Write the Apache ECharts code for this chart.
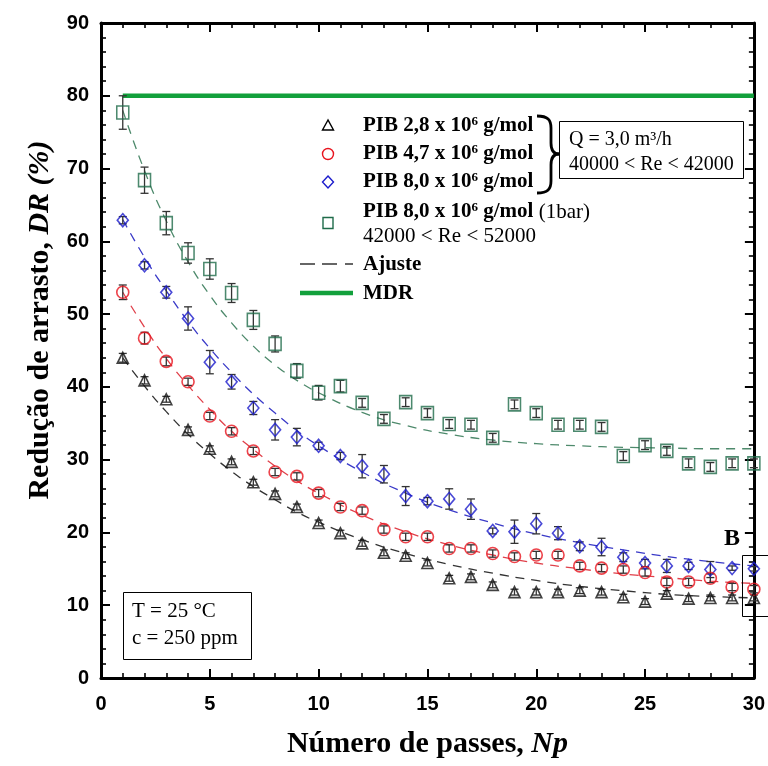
<!DOCTYPE html>
<html>
<head>
<meta charset="utf-8">
<script src="https://cdn.jsdelivr.net/npm/echarts@6/dist/echarts.min.js"></script>
<style>
  html, body { margin: 0; padding: 0; background: #fff; }
  #chart { width: 768px; height: 766px; }
</style>
</head>
<body>
<div id="chart"></div>
<script>
// Number of passes through the pump
const passes = [1,2,3,4,5,6,7,8,9,10,11,12,13,14,15,16,17,18,19,20,21,22,23,24,25,26,27,28,29,30];

// Drag reduction DR (%) per polymer
const dr28  = [44.0,40.9,38.3,34.1,31.5,29.7,26.9,25.3,23.5,21.3,19.9,18.5,17.2,16.8,15.8,13.7,13.9,12.8,11.8,11.8,11.8,12.0,11.8,11.1,10.5,11.6,10.9,11.0,11.0,11.0];
const dr47  = [53.0,46.7,43.5,40.7,36.0,33.9,31.2,28.3,27.7,25.4,23.5,23.0,20.4,19.4,19.4,17.8,17.8,17.1,16.7,16.9,16.9,15.4,15.1,14.9,14.5,13.2,13.2,13.7,12.5,12.2];
const dr80  = [62.9,56.7,53.0,49.4,43.4,40.7,37.1,34.1,33.1,31.9,30.5,29.1,28.0,25.0,24.3,24.6,23.2,20.2,20.1,21.2,19.9,18.1,18.0,16.6,15.8,15.4,15.4,14.9,15.1,15.0];
const dr80b = [77.7,68.4,62.5,58.4,56.2,52.9,49.2,45.9,42.2,39.2,40.1,37.8,35.6,37.9,36.4,34.9,34.8,33.0,37.6,36.4,34.8,34.8,34.5,30.5,32.0,31.2,29.5,29.0,29.5,29.5];

// Half-width of the error bars
const err28  = [0.6,0.5,0.4,0.4,0.4,0.4,0.4,0.4,0.4,0.4,0.4,0.4,0.4,0.4,0.4,0.4,0.4,0.4,0.4,0.4,0.4,0.4,0.4,0.4,0.4,0.4,0.4,0.4,0.4,0.4];
const err47  = [1.0,0.8,0.6,0.5,0.5,0.5,0.5,0.5,0.5,0.5,0.5,0.5,0.5,0.5,0.5,0.5,0.5,0.5,0.5,0.5,0.5,0.5,0.5,0.5,0.5,0.5,0.5,0.6,0.5,0.5];
const err80  = [0.5,0.5,0.8,1.6,1.6,1.0,0.9,1.4,1.2,0.5,0.5,1.6,1.2,1.3,0.5,1.4,1.4,0.4,1.6,1.4,0.9,0.6,1.2,0.6,0.5,0.9,0.5,1.1,0.3,0.3];
const err80b = [2.3,1.8,1.6,1.4,1.4,1.3,1.3,1.1,1.0,1.0,0.8,0.6,0.6,0.6,0.6,0.6,0.6,0.6,0.6,0.6,0.6,0.6,0.6,0.6,0.6,0.6,0.6,0.6,0.6,0.6];

// Fitted decay curves (Ajuste)
const fitPasses = [1,2,3,4,5,6,7,8,9,10,12,14,16,18,20,22,24,26,28,30];
const fit28  = [44.0,40.1,36.6,33.5,30.8,28.4,26.3,24.5,22.8,21.4,19.0,17.1,15.6,14.4,13.4,12.6,12.0,11.5,11.2,11.0];
const fit47  = [53.0,48.2,43.9,40.2,36.9,33.9,31.4,29.1,27.1,25.4,22.4,20.1,18.3,16.9,15.8,15.0,14.3,13.8,13.3,13.0];
const fit80  = [63.0,57.8,53.2,49.0,45.3,42.0,39.0,36.4,34.0,31.9,28.3,25.4,23.1,21.3,19.8,18.6,17.6,16.7,16.0,15.4];
const fit80b = [78.0,69.7,62.8,57.2,52.6,48.8,45.6,43.0,40.9,39.2,36.5,34.7,33.5,32.7,32.2,31.9,31.7,31.6,31.5,31.5];

// Maximum drag reduction asymptote
const mdrPasses = [1, 30];
const mdrValue = 80;

const SERIF = "'Liberation Serif', 'Times New Roman', serif";
const SANS = "'Liberation Sans', Arial, sans-serif";

const C_BLACK = '#111111';
const C_RED = '#e8141e';
const C_BLUE = '#1c1ccc';
const C_GREEN = '#1f6b4a';
const C_MDR = '#12a03c';

function pairs(xs, ys) { return xs.map((x, i) => [x, ys[i]]); }
function triples(xs, ys, es) { return xs.map((x, i) => [x, ys[i], es[i]]); }

function errorBars(name, vals, errs) {
  return {
    type: 'custom',
    name: name,
    silent: true,
    z: 3,
    data: triples(passes, vals, errs),
    renderItem: function (params, api) {
      const x = api.value(0), y = api.value(1), e = api.value(2);
      const top = api.coord([x, y + e]);
      const bot = api.coord([x, y - e]);
      const cap = 4;
      const st = { stroke: '#333', lineWidth: 1.3 };
      return {
        type: 'group',
        children: [
          { type: 'line', shape: { x1: top[0], y1: top[1], x2: bot[0], y2: bot[1] }, style: st },
          { type: 'line', shape: { x1: top[0] - cap, y1: top[1], x2: top[0] + cap, y2: top[1] }, style: st },
          { type: 'line', shape: { x1: bot[0] - cap, y1: bot[1], x2: bot[0] + cap, y2: bot[1] }, style: st }
        ]
      };
    }
  };
}

function scatter(name, vals, symbol, size, color) {
  return {
    type: 'scatter',
    name: name,
    z: 4,
    symbol: symbol,
    symbolSize: size,
    data: pairs(passes, vals),
    itemStyle: { color: 'rgba(255,255,255,0)', borderColor: color, borderWidth: 1.6 }
  };
}

function fit(vals, color) {
  return {
    type: 'line',
    z: 2,
    smooth: true,
    showSymbol: false,
    silent: true,
    data: pairs(fitPasses, vals),
    lineStyle: { color: color, width: 1.3, type: [9, 7] }
  };
}

const axisLine = { show: true, onZero: false, lineStyle: { color: '#000', width: 3 } };
const axisTick = { show: true, inside: true, length: 9, lineStyle: { color: '#000', width: 2 } };
const minorTickX = { show: true, splitNumber: 5, length: 5, lineStyle: { color: '#000', width: 1.6 } };
const minorTickY = { show: true, splitNumber: 5, length: 5, lineStyle: { color: '#000', width: 1.6 } };
const tickLabel = { color: '#000', fontFamily: SANS, fontWeight: 'bold', fontSize: 20 };

const chart = echarts.init(document.getElementById('chart'), null, { renderer: 'canvas' });

const sup = { fontFamily: SERIF, fontWeight: 'bold', fontSize: 13, verticalAlign: 'top', lineHeight: 22, fill: '#000' };
const bold = { fontFamily: SERIF, fontWeight: 'bold', fontSize: 21, lineHeight: 22, fill: '#000' };
const reg = { fontFamily: SERIF, fontSize: 21, lineHeight: 22, fill: '#000' };

function legendText(x, y, text) {
  return {
    type: 'text', x: x, y: y, z: 10,
    style: {
      text: text, verticalAlign: 'middle', align: 'left',
      rich: { b: bold, s: sup, r: reg }
    }
  };
}
function plainText(x, y, text, size) {
  return {
    type: 'text', x: x, y: y, z: 10,
    style: { text: text, verticalAlign: 'middle', align: 'left', font: size + 'px ' + SERIF, fill: '#000' }
  };
}
function braceCurve(x1, y1, cx1, cy1, cx2, cy2, x2, y2) {
  return {
    type: 'bezierCurve', z: 10,
    shape: { x1: x1, y1: y1, cpx1: cx1, cpy1: cy1, cpx2: cx2, cpy2: cy2, x2: x2, y2: y2 },
    style: { fill: 'none', stroke: '#000', lineWidth: 2.8 }
  };
}
function seg(x1, y1, x2, y2, color, w) {
  return { type: 'line', z: 10, shape: { x1: x1, y1: y1, x2: x2, y2: y2 }, style: { stroke: color, lineWidth: w } };
}

const option = {
  backgroundColor: '#fff',
  animation: false,
  grid: { left: 101, right: 10, top: 23, bottom: 88, containLabel: false },
  xAxis: [
    {
      type: 'value', min: 0, max: 30, interval: 5, position: 'bottom',
      axisLine: axisLine, axisTick: axisTick, minorTick: minorTickX,
      splitLine: { show: false },
      axisLabel: Object.assign({ margin: 16 }, tickLabel),
      name: '{b|Número de passes, }{i|Np}',
      nameLocation: 'middle', nameGap: 51,
      nameTextStyle: {
        rich: {
          b: { fontFamily: SERIF, fontWeight: 'bold', fontSize: 30, color: '#000' },
          i: { fontFamily: SERIF, fontWeight: 'bold', fontStyle: 'italic', fontSize: 30, color: '#000' }
        }
      }
    },
    {
      type: 'value', min: 0, max: 30, interval: 5, position: 'top',
      axisLine: axisLine, axisTick: axisTick, minorTick: minorTickX,
      splitLine: { show: false }, axisLabel: { show: false }
    }
  ],
  yAxis: [
    {
      type: 'value', min: 0, max: 90, interval: 10, position: 'left',
      axisLine: axisLine, axisTick: axisTick, minorTick: minorTickY,
      splitLine: { show: false },
      axisLabel: Object.assign({ margin: 12 }, tickLabel)
    },
    {
      type: 'value', min: 0, max: 90, interval: 10, position: 'right',
      axisLine: axisLine, axisTick: axisTick, minorTick: minorTickY,
      splitLine: { show: false }, axisLabel: { show: false }
    }
  ],
  series: [
    {
      type: 'line', name: 'MDR', z: 2, silent: true, showSymbol: false,
      data: mdrPasses.map(x => [x, mdrValue]),
      lineStyle: { color: C_MDR, width: 4.5 }
    },
    fit(fit80b, '#4e8a6c'),
    fit(fit80, '#3a3ac8'),
    fit(fit47, '#e0404a'),
    fit(fit28, '#333333'),
    errorBars('e80b', dr80b, err80b),
    errorBars('e80', dr80, err80),
    errorBars('e47', dr47, err47),
    errorBars('e28', dr28, err28),
    scatter('PIB 8,0 (1bar)', dr80b, 'rect', [12, 13], C_GREEN),
    scatter('PIB 8,0', dr80, 'diamond', [11, 13], C_BLUE),
    scatter('PIB 4,7', dr47, 'circle', 12, C_RED),
    scatter('PIB 2,8', dr28, 'triangle', 11, C_BLACK)
  ],
  graphic: [
    // y-axis title, set slightly above the plot's mid-height
    {
      type: 'text', z: 10, x: 40, y: 320, rotation: Math.PI / 2,
      style: {
        text: '{b|Redução de arrasto, }{i|DR (%)}',
        align: 'center', verticalAlign: 'middle',
        rich: {
          b: { fontFamily: SERIF, fontWeight: 'bold', fontSize: 30, fill: '#000' },
          i: { fontFamily: SERIF, fontWeight: 'bold', fontStyle: 'italic', fontSize: 30, fill: '#000' }
        }
      }
    },
    // legend symbols
    { type: 'polygon', z: 10, shape: { points: [[328, 120], [322.5, 130], [333.5, 130]] }, style: { fill: 'none', stroke: '#000', lineWidth: 1.4 } },
    { type: 'circle', z: 10, shape: { cx: 328, cy: 154, r: 5.5 }, style: { fill: 'none', stroke: C_RED, lineWidth: 1.4 } },
    { type: 'polygon', z: 10, shape: { points: [[328, 176], [333.5, 182], [328, 188], [322.5, 182]] }, style: { fill: 'none', stroke: C_BLUE, lineWidth: 1.4 } },
    { type: 'rect', z: 10, shape: { x: 323, y: 217.5, width: 10, height: 11 }, style: { fill: 'none', stroke: C_GREEN, lineWidth: 1.4 } },
    seg(300, 264, 315, 264, '#000', 1.2),
    seg(322, 264, 337, 264, '#000', 1.2),
    seg(345, 264, 353, 264, '#000', 1.2),
    seg(300, 293, 353, 293, C_MDR, 4.5),
    // legend labels
    legendText(363, 126, '{b|PIB 2,8 x 10}{s|6}{b| g/mol}'),
    legendText(363, 154, '{b|PIB 4,7 x 10}{s|6}{b| g/mol}'),
    legendText(363, 182, '{b|PIB 8,0 x 10}{s|6}{b| g/mol}'),
    legendText(363, 212, '{b|PIB 8,0 x 10}{s|6}{b| g/mol}{r| (1bar)}'),
    legendText(363, 236, '{r|42000 < Re < 52000}'),
    legendText(363, 265, '{b|Ajuste}'),
    legendText(363, 294, '{b|MDR}'),
    // brace grouping the first three polymers
    braceCurve(537, 116, 548, 116, 551, 120, 551, 128),
    seg(551, 128, 551, 143, '#000', 2.8),
    braceCurve(551, 143, 551, 150, 553, 154, 559, 154),
    braceCurve(559, 154, 553, 154, 551, 158, 551, 165),
    seg(551, 165, 551, 181, '#000', 2.8),
    braceCurve(551, 181, 551, 189, 548, 193, 537, 193),
    // flow-condition box
    { type: 'rect', z: 10, shape: { x: 559.5, y: 121.5, width: 184, height: 57 }, style: { fill: '#fff', stroke: '#000', lineWidth: 1 } },
    plainText(569, 140, 'Q = 3,0 m³/h', 20),
    plainText(569, 165, '40000 < Re < 42000', 20),
    // temperature / concentration box
    { type: 'rect', z: 10, shape: { x: 123.5, y: 592.5, width: 128, height: 67 }, style: { fill: '#fff', stroke: '#000', lineWidth: 1 } },
    plainText(132, 611, 'T = 25 °C', 21),
    plainText(132, 638, 'c = 250 ppm', 21),
    // region B
    { type: 'text', z: 10, x: 732, y: 539, style: { text: 'B', verticalAlign: 'middle', align: 'center', font: 'bold 24px ' + SERIF, fill: '#000' } },
    { type: 'rect', z: 10, shape: { x: 742.5, y: 555.5, width: 40, height: 61 }, style: { fill: 'none', stroke: '#000', lineWidth: 1 } }
  ]
};

chart.setOption(option);
</script>
</body>
</html>
